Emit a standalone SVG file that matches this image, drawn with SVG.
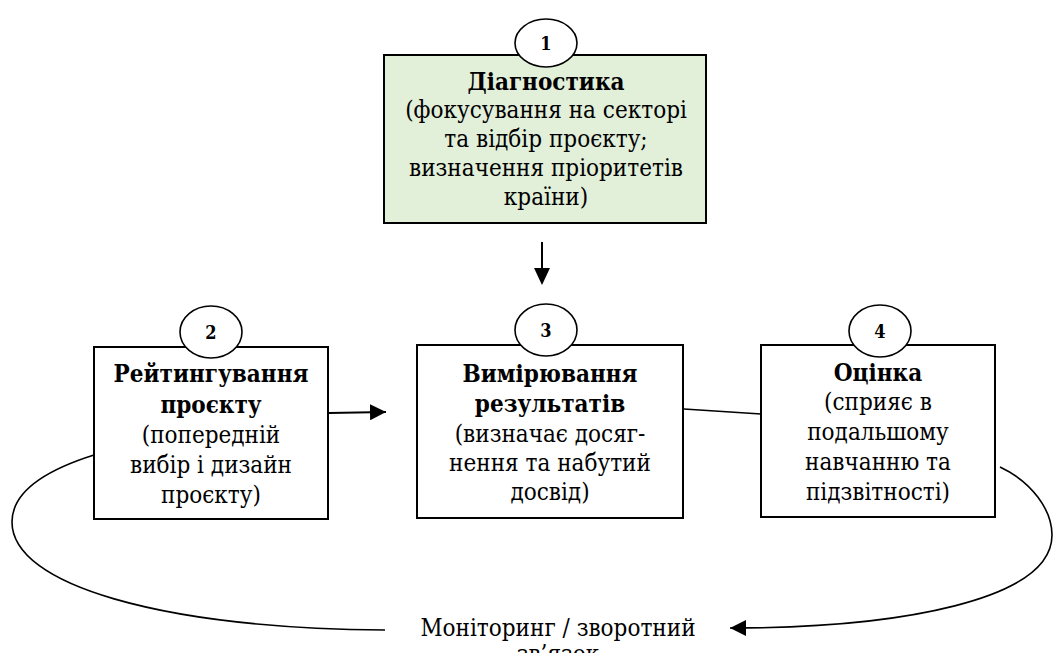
<svg xmlns="http://www.w3.org/2000/svg" width="1053" height="653" viewBox="0 0 1053 653">
<defs>
<style>
.box{fill:#ffffff;stroke:#000;stroke-width:2}
.green{fill:#E2EFD9}
.num{fill:#fff;stroke:#000;stroke-width:1.6}
.ln{fill:none;stroke:#000;stroke-width:2}
.cv{fill:none;stroke:#000;stroke-width:1.6}
</style>
<marker id="ah" viewBox="0 0 16 16" refX="16" refY="8" markerWidth="16" markerHeight="16" markerUnits="userSpaceOnUse" orient="auto">
<path d="M0,0 L16,8 L0,16 Z" fill="#000"/>
</marker>
</defs>
<rect width="1053" height="653" fill="#fff"/>

<g id="connectors">
<line class="ln" x1="542" y1="242" x2="542" y2="270" stroke-width="4"/>
<path d="M534,268 L550,268 L542,285 Z" fill="#000"/>
<line class="ln" x1="329" y1="413" x2="386" y2="412" marker-end="url(#ah)"/>
<line class="cv" x1="684" y1="409" x2="761" y2="414"/>
<path class="cv" d="M94,455 C40,472 12,495 12,522 C12,585 160,628 385,630"/>
<path class="cv" d="M1000,467 C1032,482 1052,510 1052,535 C1052,600 900,628 730,628" marker-end="url(#ah)"/>
</g>

<g font-family="'DejaVu Serif Condensed', 'DejaVu Serif', serif" font-stretch="condensed" font-size="24" fill="#000" text-anchor="middle">
<g id="node1">
<rect class="box green" x="384" y="55" width="322" height="168"/>
<ellipse class="num" cx="546" cy="43" rx="31" ry="24"/>
<text x="546" y="50" font-size="18" font-weight="bold">1</text>
<text x="546" y="90" font-weight="bold">Діагностика</text>
<text x="546" y="118">(фокусування на секторі</text>
<text x="546" y="147">та відбір проєкту;</text>
<text x="546" y="176">визначення пріоритетів</text>
<text x="546" y="205">країни)</text>
</g>

<g id="node2">
<rect class="box" x="94" y="347" width="234" height="172"/>
<ellipse class="num" cx="211" cy="332" rx="31" ry="26"/>
<text x="211" y="339" font-size="18" font-weight="bold">2</text>
<text x="211" y="382" font-weight="bold">Рейтингування</text>
<text x="211" y="413" font-weight="bold">проєкту</text>
<text x="211" y="443">(попередній</text>
<text x="211" y="473">вибір і дизайн</text>
<text x="211" y="503">проєкту)</text>
</g>

<g id="node3">
<rect class="box" x="417" y="345" width="266" height="173"/>
<ellipse class="num" cx="546" cy="330" rx="31" ry="26"/>
<text x="546" y="337" font-size="18" font-weight="bold">3</text>
<text x="550" y="382" font-weight="bold">Вимірювання</text>
<text x="550" y="412" font-weight="bold">результатів</text>
<text x="550" y="442">(визначає досяг-</text>
<text x="550" y="471">нення та набутий</text>
<text x="550" y="500">досвід)</text>
</g>

<g id="node4">
<rect class="box" x="761" y="345" width="234" height="172"/>
<ellipse class="num" cx="880" cy="331" rx="31" ry="26"/>
<text x="880" y="338" font-size="18" font-weight="bold">4</text>
<text x="878" y="381" font-weight="bold">Оцінка</text>
<text x="878" y="410">(сприяє в</text>
<text x="878" y="440">подальшому</text>
<text x="878" y="470">навчанню та</text>
<text x="878" y="500">підзвітності)</text>
</g>

<g id="label">
<text x="558" y="636">Моніторинг / зворотний</text>
<text x="558" y="662">зв’язок</text>
</g>
</g>
</svg>
